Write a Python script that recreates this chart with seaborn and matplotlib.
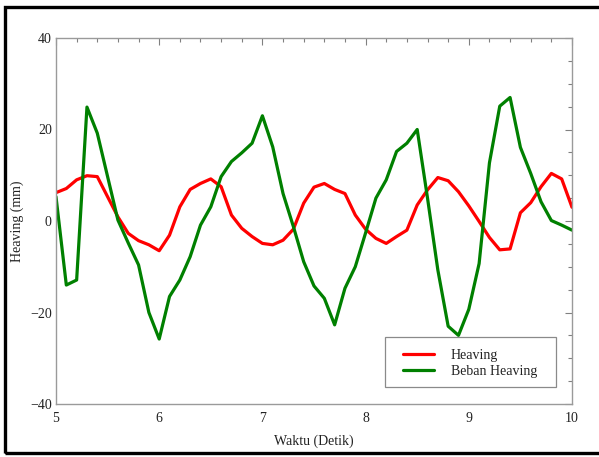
import matplotlib
matplotlib.use("Agg")
import matplotlib.pyplot as plt
from matplotlib.patches import Rectangle
from matplotlib.ticker import MultipleLocator
import seaborn as sns
import pandas as pd

waktu = [5.0, 5.1, 5.2, 5.3, 5.4, 5.5, 5.6, 5.7, 5.8, 5.9,
         6.0, 6.1, 6.2, 6.3, 6.4, 6.5, 6.6, 6.7, 6.8, 6.9,
         7.0, 7.1, 7.2, 7.3, 7.4, 7.5, 7.6, 7.7, 7.8, 7.9,
         8.0, 8.1, 8.2, 8.3, 8.4, 8.5, 8.6, 8.7, 8.8, 8.9,
         9.0, 9.1, 9.2, 9.3, 9.4, 9.5, 9.6, 9.7, 9.8, 9.9, 10.0]

heaving = [6.2, 7.1, 9.0, 9.9, 9.7, 5.3, 0.9, -2.7, -4.3, -5.2,
           -6.5, -3.1, 3.1, 6.9, 8.2, 9.2, 7.5, 1.3, -1.6, -3.4,
           -4.9, -5.2, -4.2, -1.8, 3.9, 7.4, 8.2, 6.9, 6.0, 1.3,
           -1.8, -3.8, -4.9, -3.4, -2.0, 3.5, 6.8, 9.5, 8.8, 6.4,
           3.3, -0.1, -3.6, -6.3, -6.1, 1.8, 4.0, 7.5, 10.4, 9.2, 3.0]

beban_heaving = [5.3, -14.0, -12.9, 24.9, 19.2, 9.7, 0.2, -4.8, -9.6, -20.0,
                 -25.8, -16.5, -12.9, -7.8, -0.9, 3.1, 9.7, 13.0, 14.9, 17.0,
                 23.0, 16.2, 6.0, -1.2, -8.9, -14.2, -16.9, -22.7, -14.7, -10.0,
                 -2.6, 5.0, 9.0, 15.2, 17.0, 20.0, 5.0, -10.7, -23.0, -25.0,
                 -19.3, -9.3, 12.7, 25.1, 27.0, 16.1, 10.4, 4.2, 0.1, -0.9, -2.0]

series_names = ["Heaving", "Beban Heaving"]
series_colors = ["#ff0000", "#008000"]

df = pd.DataFrame({
    "Waktu": waktu + waktu,
    "Nilai": heaving + beban_heaving,
    "Seri": [series_names[0]] * len(waktu) + [series_names[1]] * len(waktu),
})

sns.set_style("white")
plt.rcParams["font.family"] = ["Liberation Serif", "DejaVu Serif"]
plt.rcParams["font.size"] = 10

fig = plt.figure(figsize=(5.99, 4.57), dpi=100)
ax = fig.add_axes([56 / 599, 1 - 404 / 457, 516 / 599, 366 / 457])

sns.lineplot(data=df, x="Waktu", y="Nilai", hue="Seri", hue_order=series_names,
             palette=dict(zip(series_names, series_colors)), linewidth=2.3,
             ax=ax, estimator=None, sort=False)

ax.set_xlim(5, 10)
ax.set_ylim(-40, 40)
ax.xaxis.set_major_locator(MultipleLocator(1))
ax.xaxis.set_minor_locator(MultipleLocator(0.2))
ax.yaxis.set_major_locator(MultipleLocator(20))
ax.yaxis.set_minor_locator(MultipleLocator(5))
ax.tick_params(which="both", direction="in", top=True, right=True,
               color="#808080", labelsize=10, labelcolor="#222222")
ax.tick_params(which="major", length=5, width=0.8)
ax.tick_params(axis="x", which="major", pad=5.5)
ax.tick_params(axis="y", which="major", pad=3)
ax.tick_params(which="minor", length=3, width=0.8)
for s in ax.spines.values():
    s.set_color("#9a9a9a")
    s.set_linewidth(1.0)
    s.set_visible(True)

ax.set_xlabel("Waktu (Detik)", fontsize=10, color="#222222", labelpad=7)
ax.set_ylabel("Heaving (mm)", fontsize=10, color="#222222")
ax.yaxis.set_label_coords((24.5 - 56) / 516, 0.5)

# legend entries without frame, frame drawn as a box matching the reference
leg = ax.legend(loc="lower right", bbox_to_anchor=((548 - 56) / 516, 0.042),
                borderaxespad=0, frameon=False, fontsize=10,
                handlelength=2.2, handletextpad=1.2, borderpad=0.8,
                labelspacing=0.2)
for t in leg.get_texts():
    t.set_color("#222222")
ax.add_patch(Rectangle(((385 - 56) / 516, (404 - 387) / 366),
                       (556 - 385) / 516, (387 - 337) / 366,
                       transform=ax.transAxes, fill=False, linewidth=0.9,
                       edgecolor="#8a8a8a", zorder=5))

fig.patches.append(Rectangle((4.5 / 599, 4 / 457), 1.1, 1 - 10.5 / 457,
                             transform=fig.transFigure, fill=False,
                             linewidth=2.4, edgecolor="black"))

fig.savefig("out.png", dpi=100)
